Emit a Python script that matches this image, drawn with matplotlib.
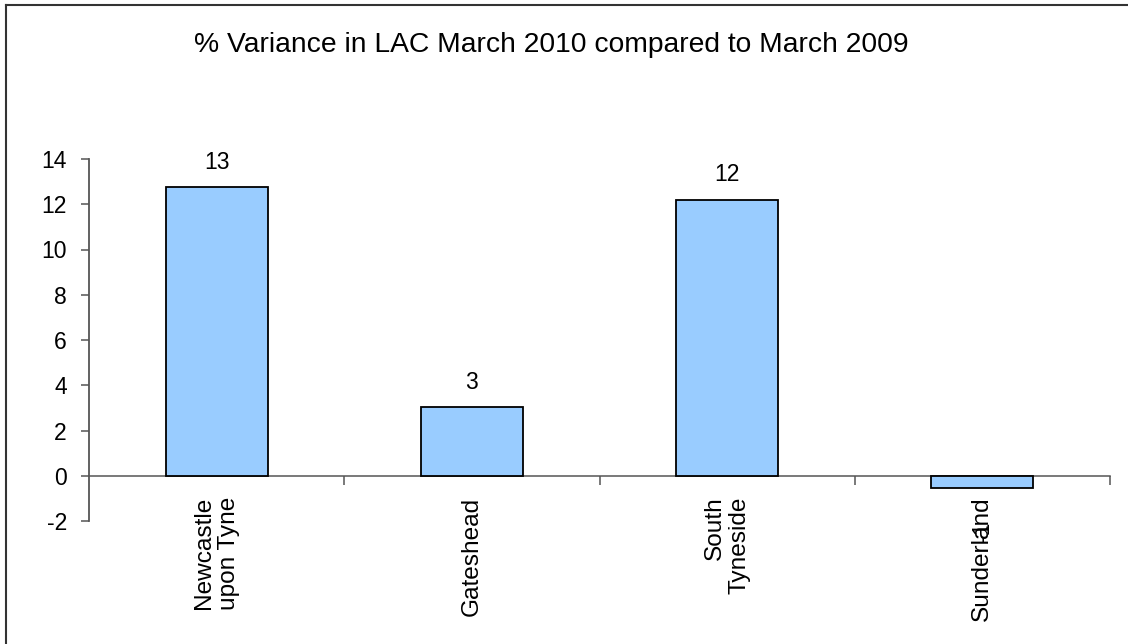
import matplotlib
matplotlib.use("Agg")
import matplotlib.pyplot as plt
from matplotlib.lines import Line2D

plt.rcParams["font.family"] = ["Liberation Sans", "DejaVu Sans"]

categories = ["Newcastle\nupon Tyne", "Gateshead", "South\nTyneside", "Sunderland"]
variance = [12.76, 3.02, 12.2, -0.53]
y_ticks = [-2, 0, 2, 4, 6, 8, 10, 12, 14]

fig = plt.figure(figsize=(11.28, 6.44), dpi=100)
ax = fig.add_axes([89 / 1128, 1 - 521 / 644, (1110 - 89) / 1128, (521 - 159) / 644])

x = list(range(len(categories)))
bars = ax.bar(x, variance, width=0.4, color="#99CCFF", edgecolor="black",
              linewidth=1.3, zorder=3)

ax.set_xlim(-0.5, len(categories) - 0.5)
ax.set_ylim(-2, 14)

axis_col = "#555555"
for side in ("top", "right"):
    ax.spines[side].set_visible(False)
ax.spines["left"].set_color(axis_col)
ax.spines["left"].set_linewidth(1.3)
ax.spines["bottom"].set_position(("data", 0))
ax.spines["bottom"].set_color(axis_col)
ax.spines["bottom"].set_linewidth(1.1)

fs = 16.5
ax.set_yticks(y_ticks)
ax.set_yticklabels([str(t) for t in y_ticks])
ax.tick_params(axis="y", length=6, width=1.1, color=axis_col, labelsize=fs, pad=10)

ax.set_xticks(x)
ax.set_xticklabels(categories, rotation=90, ha="center", va="top",
                   multialignment="right")
ax.set_xticks([i + 0.5 for i in x], minor=True)
ax.tick_params(axis="x", which="major", length=0, labelsize=17.6, pad=15)
ax.tick_params(axis="x", which="minor", length=6.5, width=1.1, color=axis_col,
               direction="out")

for rect, v in zip(bars, variance):
    cx = rect.get_x() + rect.get_width() / 2
    if v >= 0:
        ax.annotate(f"{v:.0f}", (cx, v), xytext=(0, 18), textcoords="offset points",
                    ha="center", va="center", fontsize=fs)
    else:
        ax.annotate(f"{v:.0f}", (cx, v), xytext=(0, -32), textcoords="offset points",
                    ha="center", va="center", fontsize=fs, rotation=90)

fig.text(551 / 1128, 1 - 45 / 644, "% Variance in LAC March 2010 compared to March 2009",
         ha="center", va="center", fontsize=20.3)

# frame around the chart area
fig.add_artist(Line2D([6 / 1128, 6 / 1128], [0, 1 - 5 / 644], transform=fig.transFigure,
                      color="#333333", linewidth=1.5))
fig.add_artist(Line2D([6 / 1128, 1], [1 - 5 / 644, 1 - 5 / 644], transform=fig.transFigure,
                      color="#333333", linewidth=1.5))

fig.savefig("out.png", dpi=100)
